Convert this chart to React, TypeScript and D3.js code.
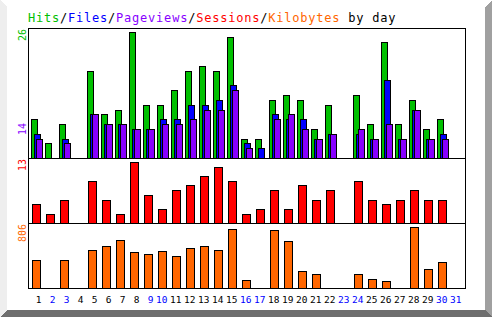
import React from "react";
import * as d3 from "d3";

const days = d3.range(1, 32);
const weekendDays = [2, 3, 9, 10, 16, 17, 23, 24, 30, 31];

const hits = [8, 3, 7, 0, 18, 9, 10, 26, 11, 11, 14, 18, 19, 18, 25, 4, 4, 12, 13, 12, 6, 11, 0, 13, 7, 24, 7, 12, 6, 8, 0];
const files = [5, 0, 4, 0, 9, 7, 7, 6, 6, 8, 8, 11, 11, 12, 15, 3, 2, 9, 8, 8, 4, 5, 0, 5, 4, 16, 4, 10, 4, 5, 0];
const pageviews = [4, 0, 3, 0, 9, 7, 7, 6, 6, 7, 7, 8, 10, 10, 14, 2, 0, 8, 9, 6, 4, 5, 0, 6, 4, 7, 4, 10, 4, 4, 0];
const sessions = [4, 2, 5, 0, 9, 5, 2, 13, 6, 3, 7, 8, 10, 12, 9, 2, 3, 7, 3, 8, 5, 7, 0, 9, 5, 4, 5, 7, 5, 5, 0];
const kilobytes = [370, 0, 370, 0, 502, 555, 634, 476, 449, 489, 423, 529, 555, 502, 780, 106, 0, 766, 621, 225, 185, 0, 0, 185, 119, 92, 0, 806, 251, 344, 0];

const titleParts = [
  { text: "Hits", color: "#00C000" },
  { text: "/", color: "#000000" },
  { text: "Files", color: "#0000FF" },
  { text: "/", color: "#000000" },
  { text: "Pageviews", color: "#8800FF" },
  { text: "/", color: "#000000" },
  { text: "Sessions", color: "#FF0000" },
  { text: "/", color: "#000000" },
  { text: "Kilobytes", color: "#FF6600" },
  { text: " by day", color: "#000000" },
];

const W = 492;
const H = 317;
const FONT = "'DejaVu Sans Mono', monospace";
const C_HIT = "#00C000";
const C_FILE = "#0000FF";
const C_PAGE = "#8800FF";
const C_SESS = "#FF0000";
const C_KB = "#FF6600";

export default function App() {
  const left = 28;
  const right = 465;
  const top = 28;
  const sep1 = 158;
  const sep2 = 223;
  const bottom = 288;

  const x = d3.scaleLinear().domain([1, 31]).range([31, 31 + 30 * 14]);
  const maxHits = d3.max(hits) as number;
  const maxPages = d3.max(pageviews) as number;
  const maxSess = d3.max(sessions) as number;
  const maxKb = d3.max(kilobytes) as number;
  const yTop = d3.scaleLinear().domain([0, maxHits]).range([sep1, top + 4]);
  const yMid = d3.scaleLinear().domain([0, maxSess]).range([sep2, sep1 + 4]);
  const yBot = d3.scaleLinear().domain([0, maxKb]).range([bottom, sep2 + 4]);

  const bar = (
    key: string,
    x0: number,
    w: number,
    v: number,
    scale: d3.ScaleLinear<number, number>,
    base: number,
    color: string
  ) => {
    if (!v) return null;
    const yy = Math.round(scale(v));
    return (
      <rect
        key={key}
        x={x0 + 0.5}
        y={yy + 0.5}
        width={w}
        height={base - yy}
        fill={color}
        stroke="#000"
        strokeWidth={1}
      />
    );
  };

  return (
    <svg
      width={W}
      height={H}
      style={{ position: "absolute", left: 0, top: 0, display: "block" }}
      shapeRendering="crispEdges"
    >
      <rect x={0} y={0} width={W} height={H} fill="#FFFFFF" />
      <polygon points={`0,0 ${W},0 ${W - 7},7 7,7`} fill="#FFFFFF" />
      <polygon points={`0,0 7,7 7,${H - 7} 0,${H}`} fill="#EEEEEE" />
      <polygon points={`${W},0 ${W},${H} ${W - 7},${H - 7} ${W - 7},7`} fill="#A0A0A0" />
      <polygon points={`0,${H} ${W},${H} ${W - 7},${H - 7} 7,${H - 7}`} fill="#6E6E6E" />

      <text x={28} y={22} fontFamily={FONT} fontSize={12} letterSpacing={0.78} shapeRendering="auto">
        {titleParts.map((p, i) => (
          <tspan key={i} fill={p.color} style={{ whiteSpace: "pre" }}>
            {p.text}
          </tspan>
        ))}
      </text>

      {days.map((d, i) => {
        const gx = x(d);
        return (
          <g key={d}>
            {bar("h", gx, 6, hits[i], yTop, sep1, C_HIT)}
            {bar("f", gx + 3, 6, files[i], yTop, sep1, C_FILE)}
            {bar("p", gx + 5, 6, pageviews[i], yTop, sep1, C_PAGE)}
            {bar("s", gx + 1, 8, sessions[i], yMid, sep2, C_SESS)}
            {bar("k", gx + 1, 8, kilobytes[i], yBot, bottom, C_KB)}
          </g>
        );
      })}

      <rect
        x={left + 0.5}
        y={top + 0.5}
        width={right - left}
        height={bottom - top}
        fill="none"
        stroke="#000"
      />
      <line x1={left} x2={right + 1} y1={sep1 + 0.5} y2={sep1 + 0.5} stroke="#000" />
      <line x1={left} x2={right + 1} y1={sep2 + 0.5} y2={sep2 + 0.5} stroke="#000" />

      <g fontFamily={FONT} fontSize={10} shapeRendering="auto">
        <text transform={`translate(26,${top + 1}) rotate(-90)`} textAnchor="end" fill={C_HIT}>
          {String(maxHits)}
        </text>
        <text transform={`translate(26,123) rotate(-90)`} textAnchor="end" fill={C_PAGE}>
          {String(maxPages)}
        </text>
        <text transform={`translate(26,${sep1 + 1}) rotate(-90)`} textAnchor="end" fill={C_SESS}>
          {String(maxSess)}
        </text>
        <text transform={`translate(26,${sep2 + 1}) rotate(-90)`} textAnchor="end" fill={C_KB}>
          {String(maxKb)}
        </text>
      </g>

      <g fontFamily={FONT} fontSize={9.5} shapeRendering="auto">
        {days.map((d) => (
          <text
            key={d}
            x={x(d) + 10.5}
            y={303}
            textAnchor="end"
            fill={weekendDays.includes(d) ? "#0000FF" : "#000000"}
          >
            {String(d)}
          </text>
        ))}
      </g>
    </svg>
  );
}
